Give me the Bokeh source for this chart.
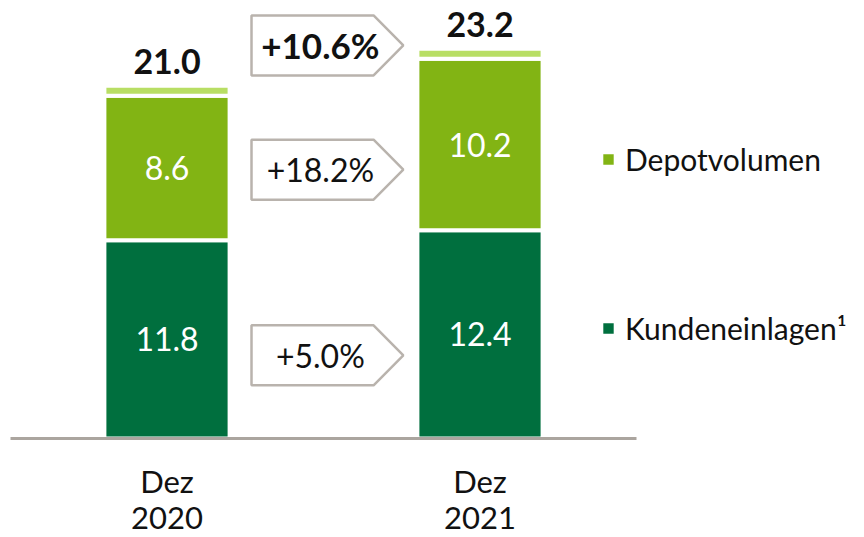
from bokeh.plotting import figure
from bokeh.models import ColumnDataSource, Legend, LegendItem
from bokeh.core.properties import value
from bokeh.embed import file_html
from bokeh.resources import INLINE

# ---------------- data ----------------
categories = ["Dez\n2020", "Dez\n2021"]
kundeneinlagen = [11.8, 12.4]
depotvolumen = [8.6, 10.2]
totals = [21.0, 23.2]
growth_labels = ["+10.6%", "+18.2%", "+5.0%"]
series_names = ["Depotvolumen", "Kundeneinlagen\u00b9"]

# ---------------- layout / style ----------------
FONT = "Lato"
DARK = "#006F3E"
LIGHT = "#82B414"
PALE = "#B8DE64"
GREY = "#ABA59F"
BOX_GREY = "#B9B3AD"

W, H = 864, 537
PX_X = 313.0      # pixels per x unit
PX_Y = 16.8       # pixels per y unit
X0_PX = 166.5     # canvas x of first category
BASE_PX = 438.0   # canvas y (from top) of value 0

x_start = -X0_PX / PX_X
x_end = x_start + W / PX_X
y_end = BASE_PX / PX_Y
y_start = y_end - H / PX_Y

p = figure(width=W, height=H, x_range=(x_start, x_end), y_range=(y_start, y_end),
           output_backend="svg", toolbar_location=None,
           x_axis_type=None, y_axis_type=None, min_border=0,
           outline_line_color=None, background_fill_color="white",
           border_fill_color="white")

xs = list(range(len(categories)))
rest = [round(t - k - d, 1) for t, k, d in zip(totals, kundeneinlagen, depotvolumen)]
src = ColumnDataSource(dict(x=xs, kunden=kundeneinlagen, depot=depotvolumen, rest=rest))

rs = p.vbar_stack(["kunden", "depot", "rest"], x="x", width=0.4, source=src,
                  fill_color=[DARK, LIGHT, PALE], line_color="white", line_width=4)

# baseline (category axis line), drawn over the bar outlines
p.segment(x0=[-0.5], x1=[len(categories) - 0.5], y0=[0], y1=[0],
          line_color=GREY, line_width=3)

# segment labels
seg_x, seg_y, seg_t = [], [], []
for i in xs:
    seg_x += [i, i]
    seg_y += [kundeneinlagen[i] / 2, kundeneinlagen[i] + depotvolumen[i] / 2]
    seg_t += [f"{kundeneinlagen[i]:.1f}", f"{depotvolumen[i]:.1f}"]
p.text(x=seg_x, y=seg_y, text=seg_t, text_color="white", text_font=value(FONT),
       text_font_size="32px", text_align="center", text_baseline="middle")

# totals
p.text(x=xs, y=totals, text=[f"{t:.1f}" for t in totals], text_color="#111111",
       text_font=value(FONT), text_font_size="34px", text_font_style="bold",
       text_align="center", text_baseline="middle", y_offset=-24)

# category labels (two lines)
line1 = [c.split("\n")[0] for c in categories]
line2 = [c.split("\n")[1] for c in categories]
p.text(x=xs, y=[0] * len(xs), text=line1, text_color="#111111",
       text_font=value(FONT), text_font_size="31px", text_align="center",
       text_baseline="middle", y_offset=42)
p.text(x=xs, y=[0] * len(xs), text=line2, text_color="#111111",
       text_font=value(FONT), text_font_size="31px", text_align="center",
       text_baseline="middle", y_offset=79)

# growth arrow boxes
box_yc = [23.4, 16.0, 4.95]
half_h = 30 / PX_Y
L, R, P = 0.27, 0.66, 0.755
bxs, bys = [], []
for yc in box_yc:
    bxs.append([L, R, P, R, L])
    bys.append([yc + half_h, yc + half_h, yc, yc - half_h, yc - half_h])
p.patches(xs=bxs, ys=bys, fill_color="white", line_color=BOX_GREY, line_width=2.5)
p.text(x=[0.49] * 3, y=box_yc, text=growth_labels, text_color="#111111",
       text_font=value(FONT), text_font_size=["35px", "32px", "32px"],
       text_font_style=["bold", "normal", "normal"],
       text_align="center", text_baseline="middle")

# legends
leg_pos = [(599, 358), (599, 189)]
for name, r, pos in zip(series_names, [rs[1], rs[0]], leg_pos):
    leg = Legend(items=[LegendItem(label=name, renderers=[r])], location=pos,
                 glyph_width=18, glyph_height=18, label_height=40, label_standoff=8,
                 label_text_font=FONT, label_text_font_size="30px",
                 label_text_color="#111111", padding=0, margin=0,
                 border_line_color=None, background_fill_alpha=0)
    p.add_layout(leg)

open("out.html", "w").write(file_html(p, INLINE))
